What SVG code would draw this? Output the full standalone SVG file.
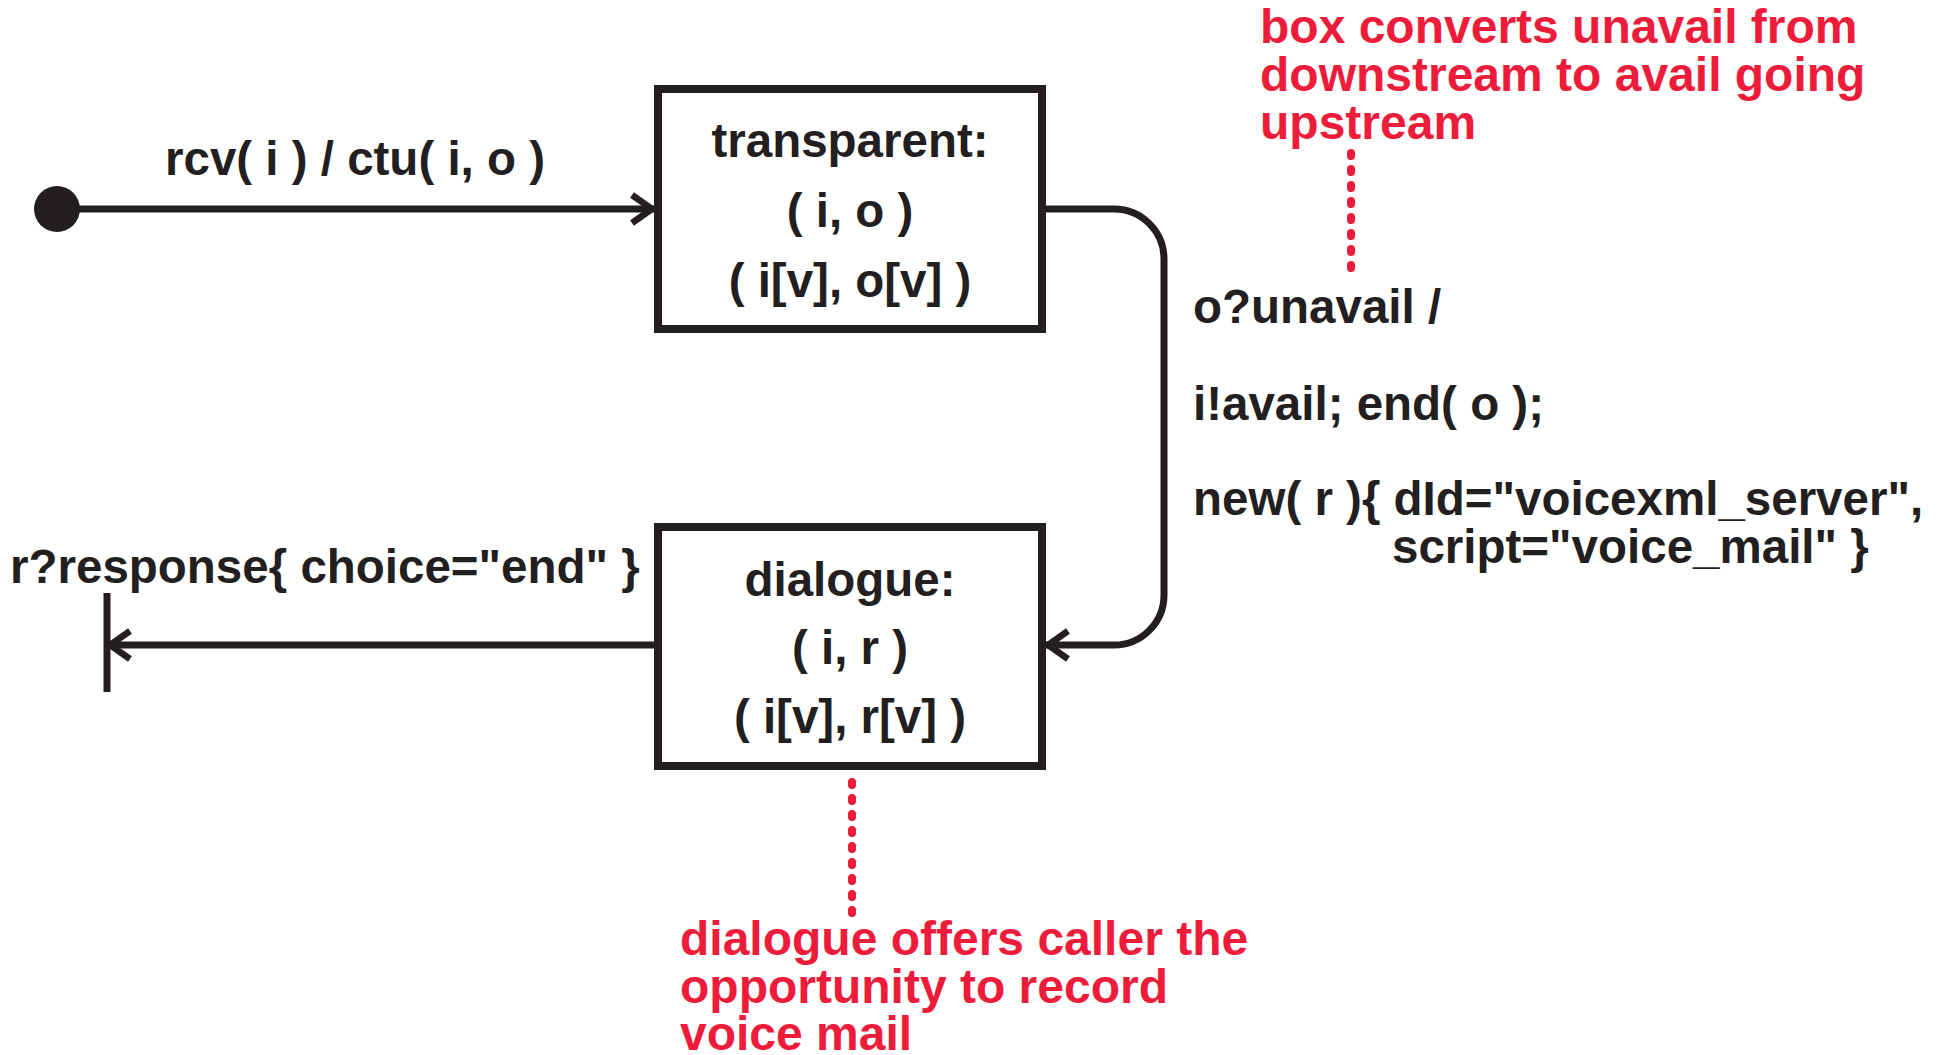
<svg xmlns="http://www.w3.org/2000/svg" width="1950" height="1055" viewBox="0 0 1950 1055">
<style>
  .t{font-family:"Liberation Sans",Arial,sans-serif;font-weight:bold;font-size:47.5px;fill:#231F20}
  .m{text-anchor:middle}
  .red{font-family:"Liberation Sans",Arial,sans-serif;font-weight:bold;font-size:48px;fill:#ED1C3A}
  .box{fill:#fff;stroke:#231F20;stroke-width:8}
  .ln{fill:none;stroke:#231F20;stroke-width:7}
  .dot{fill:none;stroke:#ED1C3A;stroke-width:8;stroke-linecap:round;stroke-dasharray:3 13}
</style>
<defs>
  <marker id="arr" markerUnits="userSpaceOnUse" viewBox="-30 -20 40 40" refX="0" refY="0" markerWidth="40" markerHeight="40" orient="auto">
    <path d="M -22 -14 L -2 0 L -22 14" fill="none" stroke="#231F20" stroke-width="6.5"/>
  </marker>
</defs>
<rect width="1950" height="1055" fill="#fff"/>

<g id="connectors">
  <circle id="start" cx="57" cy="209" r="23" fill="#231F20"/>
  <line class="ln" x1="57" y1="209" x2="654" y2="209" marker-end="url(#arr)"/>
  <path class="ln" d="M 1046 209 H 1114 A 50 50 0 0 1 1164 259 V 595 A 50 50 0 0 1 1114 645 H 1046" marker-end="url(#arr)"/>
  <line class="ln" x1="654" y1="645" x2="108" y2="645" marker-end="url(#arr)"/>
  <line class="ln" x1="107" y1="593" x2="107" y2="692"/>
  <line class="dot" x1="1351" y1="153" x2="1351" y2="268"/>
  <line class="dot" x1="852" y1="782" x2="852" y2="916"/>
</g>

<g id="transparent">
  <rect class="box" x="658" y="89" width="384" height="240"/>
  <text class="t m" x="850" y="157">transparent:</text>
  <text class="t m" x="850" y="227">( i, o )</text>
  <text class="t m" x="850" y="297">( i[v], o[v] )</text>
</g>

<g id="dialogue">
  <rect class="box" x="658" y="527" width="384" height="239"/>
  <text class="t m" x="850" y="596">dialogue:</text>
  <text class="t m" x="850" y="664">( i, r )</text>
  <text class="t m" x="850" y="733">( i[v], r[v] )</text>
</g>

<g id="labels">
  <text class="t" x="165" y="175">rcv( i ) / ctu( i, o )</text>
  <text class="t" x="10" y="583">r?response{ choice="end" }</text>
  <text class="t" x="1193" y="323">o?unavail /</text>
  <text class="t" x="1193" y="420">i!avail; end( o );</text>
  <text class="t" x="1193" y="515">new( r ){ dId="voicexml_server",</text>
  <text class="t" x="1392" y="563">script="voice_mail" }</text>
</g>

<g id="notes">
  <text class="red" x="1260" y="43">box converts unavail from</text>
  <text class="red" x="1260" y="91">downstream to avail going</text>
  <text class="red" x="1260" y="139">upstream</text>
  <text class="red" x="680" y="955">dialogue offers caller the</text>
  <text class="red" x="680" y="1003">opportunity to record</text>
  <text class="red" x="680" y="1050">voice mail</text>
</g>
</svg>
